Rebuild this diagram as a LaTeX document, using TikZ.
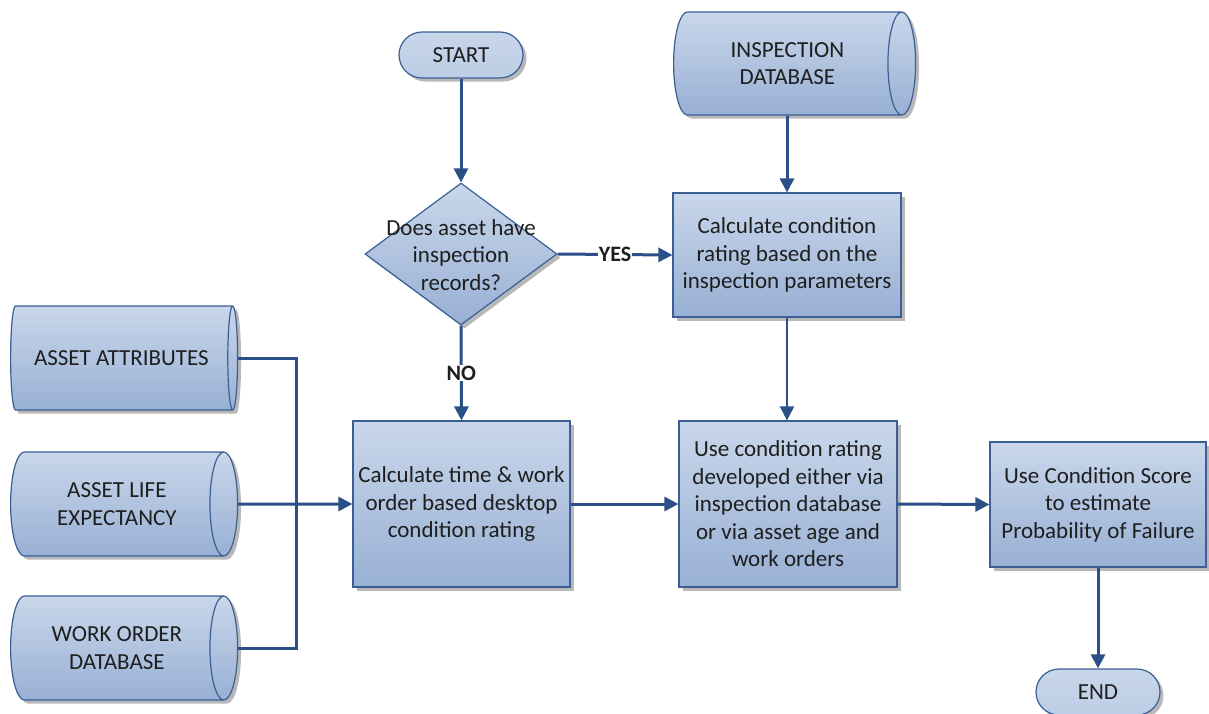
\documentclass[tikz,border=0pt]{standalone}
\usepackage{fontspec}
\setmainfont{Carlito}
\usetikzlibrary{shapes.geometric,shadows,arrows.meta}
\definecolor{boxtop}{HTML}{C9D7EB}
\definecolor{boxbot}{HTML}{98B0D4}
\definecolor{termtop}{HTML}{C8D6EA}
\definecolor{termbot}{HTML}{BCCDE5}
\definecolor{edge}{HTML}{3B5F94}
\definecolor{flowc}{HTML}{2B5088}
\definecolor{inktext}{HTML}{1E1E1E}
\begin{document}
\begin{tikzpicture}[x=1pt,y=-1pt,
  font=\fontsize{23}{27.5}\selectfont, text=inktext,
  base/.style={draw=edge, line width=1.2pt, top color=boxtop, bottom color=boxbot,
    inner sep=0pt,
    drop shadow={shadow xshift=3.5pt, shadow yshift=-3.5pt, fill=black, opacity=0.28}},
  procbox/.style={base, rectangle, align=center},
  term/.style={base, rectangle, rounded corners=23pt, top color=termtop, bottom color=termbot,
    minimum width=124, minimum height=46},
  decision/.style={base, diamond, minimum width=192, minimum height=142},
  store/.style={base, cylinder, shape border rotate=0, aspect=0.65, align=center, anchor=west},
  flow/.style={draw=flowc, line width=3pt},
  arrow/.style={flow, -{Triangle[length=14pt,width=14pt]}},
  tag/.style={fill=white, font=\fontsize{22}{26}\selectfont\bfseries, inner sep=1pt}
]
\useasboundingbox (0,0) rectangle (1209,713);

% start, decision and the inspection branch
\node[term] (start) at (461,55) {START};
\node[decision] (dec) at (461,254) {};
\node[align=center] (dectext) at (461,255) {Does asset have\\inspection\\records?};
\node[store, minimum height=242, minimum width=103] (insp) at (673,63.5)
  {INSPECTION\\DATABASE};
\node[procbox, minimum width=228, minimum height=124] (calc) at (787,255)
  {Calculate condition\\rating based on the\\inspection parameters};

% data sources on the left
\node[store, minimum height=227, minimum width=104] (attr) at (10,358) {ASSET ATTRIBUTES};
\node[store, minimum height=227, minimum width=104] (life) at (10,504) {ASSET LIFE\\EXPECTANCY};
\node[store, minimum height=227, minimum width=104] (work) at (10,648) {WORK ORDER\\DATABASE};
\coordinate (bus) at (296,504);

% main processing row
\node[procbox, minimum width=217, minimum height=166] (box1) at (461.5,504)
  {Calculate time \& work\\order based desktop\\condition rating};
\node[procbox, minimum width=218, minimum height=166] (box2) at (788,504)
  {Use condition rating\\developed either via\\inspection database\\or via asset age and\\work orders};
\node[procbox, minimum width=216, minimum height=125] (box3) at (1098,504.5)
  {Use Condition Score\\to estimate\\Probability of Failure};
\node[term] (end) at (1098,692) {END};

% connectors
\draw[arrow] (start) -- (dec);
\draw[arrow] (dec.east) -- (calc.west) node[tag, midway] {YES};
\draw[arrow] (dec.south) -- (box1.north) node[tag, midway] {NO};
\draw[arrow] (calc.north |- insp.south) -- (calc.north);
\draw[arrow, line width=2pt] (calc.south) -- (calc.south |- box2.north);
\draw[flow] (attr.east) -| (bus) |- (work.east);
\draw[arrow] (life.east) -- (box1.west);
\draw[arrow] (box1.east) -- (box2.west);
\draw[arrow] (box2.east) -- (box3.west);
\draw[arrow] (box3.south) -- (end.north);
\end{tikzpicture}
\end{document}
